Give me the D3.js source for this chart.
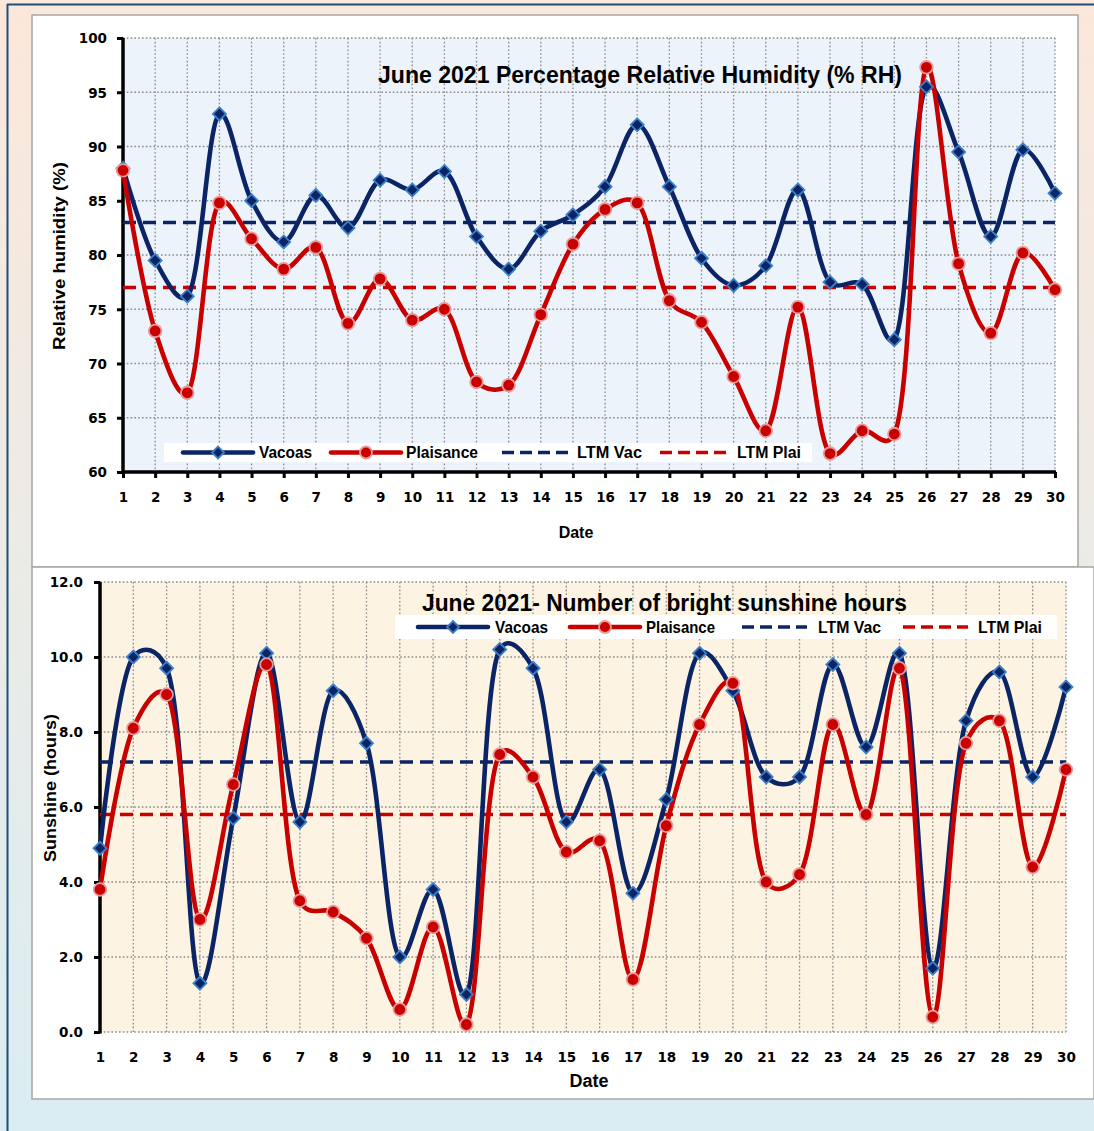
<!DOCTYPE html>
<html><head><meta charset="utf-8">
<script src="https://cdn.jsdelivr.net/npm/d3@7/dist/d3.min.js"></script>
<style>html,body{margin:0;padding:0;background:#fff}body{width:1094px;height:1131px;overflow:hidden}</style>
</head><body>
<svg id="c" width="1094" height="1131" xmlns="http://www.w3.org/2000/svg"></svg>
<script>
// ---------- DATA ----------
const days = [1,2,3,4,5,6,7,8,9,10,11,12,13,14,15,16,17,18,19,20,21,22,23,24,25,26,27,28,29,30];
const rhVacoas    = [88.0,79.5,76.2,93.0,85.0,81.2,85.5,82.5,86.9,86.0,87.7,81.7,78.7,82.2,83.7,86.3,92.0,86.3,79.7,77.2,79.0,86.0,77.5,77.3,72.2,95.5,89.5,81.7,89.7,85.7];
const rhPlaisance = [87.8,73.0,67.3,84.8,81.5,78.7,80.7,73.7,77.8,74.0,75.0,68.3,68.0,74.5,81.0,84.2,84.8,75.8,73.8,68.8,63.8,75.2,61.7,63.8,63.5,97.3,79.2,72.8,80.2,76.8];
const rhLtmVac = 83.0, rhLtmPlai = 77.0;
const rhTicks = [60,65,70,75,80,85,90,95,100];

const sunVacoas    = [4.9,10.0,9.7,1.3,5.7,10.1,5.6,9.1,7.7,2.0,3.8,1.0,10.2,9.7,5.6,7.0,3.7,6.2,10.1,9.1,6.8,6.8,9.8,7.6,10.1,1.7,8.3,9.6,6.8,9.2];
const sunPlaisance = [3.8,8.1,9.0,3.0,6.6,9.8,3.5,3.2,2.5,0.6,2.8,0.2,7.4,6.8,4.8,5.1,1.4,5.5,8.2,9.3,4.0,4.2,8.2,5.8,9.7,0.4,7.7,8.3,4.4,7.0];
const sunLtmVac = 7.2, sunLtmPlai = 5.8;
const sunTicks = [0,2,4,6,8,10,12];

const seriesNames = ["Vacoas","Plaisance","LTM Vac","LTM Plai"];
const titleRH  = "June 2021 Percentage Relative Humidity (% RH)";
const titleSun = "June 2021- Number of bright sunshine hours";

// ---------- STYLE ----------
const NAVY = "#0a2466", RED = "#c80000";
const NARROW = "'Liberation Sans Narrow','Arial Narrow','Liberation Sans',sans-serif";
const WIDE = "'DejaVu Sans',Verdana,sans-serif";

const svg = d3.select("#c");
const defs = svg.append("defs");
const g0 = defs.append("linearGradient").attr("id","bg").attr("x1",0).attr("y1",0).attr("x2",0).attr("y2",1);
g0.append("stop").attr("offset","0%").attr("stop-color","#fce7da");
g0.append("stop").attr("offset","50%").attr("stop-color","#ebebe6");
g0.append("stop").attr("offset","100%").attr("stop-color","#daedf3");

svg.append("rect").attr("width",1094).attr("height",1131).attr("fill","url(#bg)");
svg.append("line").attr("x1",7).attr("x2",1094).attr("y1",4.5).attr("y2",4.5).attr("stroke","#1f4e79").attr("stroke-width",2);
svg.append("line").attr("x1",7.5).attr("x2",7.5).attr("y1",4).attr("y2",1131).attr("stroke","#1f4e79").attr("stroke-width",2);

svg.append("rect").attr("x",32).attr("y",15).attr("width",1046).attr("height",552).attr("fill","#fff").attr("stroke","#a6a6a6").attr("stroke-width",1.5);
svg.append("rect").attr("x",32).attr("y",567).attr("width",1062).attr("height",532).attr("fill","#fff").attr("stroke","#a6a6a6").attr("stroke-width",1.5);

function diamond(sel, x, y, s){
  sel.append("path").attr("d",`M${x},${y-s}L${x+s},${y}L${x},${y+s}L${x-s},${y}Z`)
    .attr("fill",NAVY).attr("stroke","#3c7fc6").attr("stroke-width",1.8);
}
function dot(sel, x, y, r){
  sel.append("circle").attr("cx",x).attr("cy",y).attr("r",r)
    .attr("fill",RED).attr("stroke","#e89a9a").attr("stroke-width",1.8);
}

function chart(cfg){
  const g = svg.append("g");
  const x = d3.scaleLinear().domain([days[0], days[days.length-1]]).range([cfg.x0, cfg.x1]);
  const y = d3.scaleLinear().domain([cfg.ticks[0], cfg.ticks[cfg.ticks.length-1]]).range([cfg.y0, cfg.y1]);
  g.append("rect").attr("x",cfg.x0).attr("y",cfg.y1).attr("width",cfg.x1-cfg.x0).attr("height",cfg.y0-cfg.y1).attr("fill",cfg.bg);
  const grid = g.append("g").attr("stroke","#8a8a8a").attr("stroke-width",1.3).attr("stroke-dasharray","1.6,2.2");
  days.forEach(d=>{ grid.append("line").attr("x1",x(d)).attr("x2",x(d)).attr("y1",cfg.y1).attr("y2",cfg.y0); });
  cfg.ticks.forEach(t=>{ grid.append("line").attr("x1",cfg.x0).attr("x2",cfg.x1).attr("y1",y(t)).attr("y2",y(t)); });

  const ya = g.append("g").attr("transform",`translate(${cfg.x0},0)`)
    .call(d3.axisLeft(y).tickValues(cfg.ticks).tickSize(6).tickFormat(cfg.fmt));
  ya.select(".domain").attr("stroke","#000").attr("stroke-width",3.5).attr("d",`M0,${y(cfg.ticks[0])+1.5}V${y(cfg.ticks[cfg.ticks.length-1])}`);
  ya.selectAll(".tick line").attr("stroke","#000").attr("stroke-width",3);
  ya.selectAll(".tick text").attr("font-family",WIDE).attr("font-weight","bold").attr("font-size",13.5).attr("fill","#000").attr("x",cfg.ylabX - cfg.x0).attr("dy","0.36em");

  const xa = g.append("g").attr("transform",`translate(0,${cfg.y0})`)
    .call(d3.axisBottom(x).tickValues(days).tickSize(cfg.xTickLen).tickFormat(d3.format("d")));
  if (cfg.xAxisLine) xa.select(".domain").attr("stroke","#000").attr("stroke-width",3.5).attr("d",`M${cfg.x0},0H${cfg.x1+1}`);
  else xa.select(".domain").remove();
  xa.selectAll(".tick line").attr("stroke","#000").attr("stroke-width",3);
  xa.selectAll(".tick text").attr("font-family",WIDE).attr("font-weight","bold").attr("font-size",13.5).attr("fill","#000")
    .attr("y",cfg.xlabBase - cfg.y0).attr("dy",0);

  g.append("text").attr("x",cfg.titleX).attr("y",cfg.titleY).text(cfg.title)
    .attr("font-family",NARROW).attr("font-weight","bold").attr("font-size",cfg.titleSize).attr("fill","#000")
    .attr("textLength",cfg.titleW).attr("lengthAdjust","spacingAndGlyphs");
  g.append("text").attr("x",cfg.dateX).attr("y",cfg.dateY).text("Date").attr("text-anchor","middle")
    .attr("font-family",NARROW).attr("font-weight","bold").attr("font-size",cfg.dateSize).attr("fill","#000");
  g.append("text").attr("transform",`translate(${cfg.yTitleX},${cfg.yTitleY}) rotate(-90)`).text(cfg.yTitle)
    .attr("text-anchor","middle").attr("font-family",NARROW).attr("font-weight","bold").attr("font-size",17).attr("fill","#000")
    .attr("textLength",cfg.yTitleW).attr("lengthAdjust","spacingAndGlyphs");

  g.append("line").attr("x1",cfg.x0).attr("x2",cfg.x1).attr("y1",y(cfg.ltmVac)).attr("y2",y(cfg.ltmVac))
    .attr("stroke",NAVY).attr("stroke-width",3.6).attr("stroke-dasharray","13,7");
  g.append("line").attr("x1",cfg.x0).attr("x2",cfg.x1).attr("y1",y(cfg.ltmPlai)).attr("y2",y(cfg.ltmPlai))
    .attr("stroke",RED).attr("stroke-width",3.6).attr("stroke-dasharray","13,7");

  const line = d3.line().x((d,i)=>x(days[i])).y(d=>y(d)).curve(d3.curveCatmullRom.alpha(0.3));
  g.append("path").attr("d",line(cfg.vac)).attr("fill","none").attr("stroke",NAVY).attr("stroke-width",4.6);
  g.append("path").attr("d",line(cfg.plai)).attr("fill","none").attr("stroke",RED).attr("stroke-width",4.6);
  cfg.vac.forEach((v,i)=>diamond(g, x(days[i]), y(v), 6.5));
  cfg.plai.forEach((v,i)=>dot(g, x(days[i]), y(v), 6.3));

  const L = cfg.legend;
  g.append("rect").attr("x",L.x0).attr("y",L.yTop).attr("width",L.x1-L.x0).attr("height",L.h).attr("fill","#fff");
  const ly = L.yTop + L.h/2;
  L.items.forEach((it,k)=>{
    const col = (k===0||k===2)?NAVY:RED;
    const ln = g.append("line").attr("x1",it[0]).attr("x2",it[1]).attr("y1",ly).attr("y2",ly).attr("stroke",col);
    if (k<2){ ln.attr("stroke-width",4.6).attr("stroke-linecap","round"); }
    else { ln.attr("stroke-width",3.6).attr("stroke-dasharray",L.dash); }
    if (k===0) diamond(g,(it[0]+it[1])/2,ly,6);
    if (k===1) dot(g,(it[0]+it[1])/2,ly,6);
    g.append("text").attr("x",it[2]).attr("y",ly).attr("dy","0.35em").text(seriesNames[k])
      .attr("font-family",NARROW).attr("font-weight","bold").attr("font-size",L.fs).attr("fill","#000")
      .attr("textLength",it[3]).attr("lengthAdjust","spacingAndGlyphs");
  });
}

chart({
  x0:123, x1:1055, y0:472, y1:38, ticks:rhTicks, fmt:d3.format("d"), bg:"#edf3fb",
  ylabX:107, xTickLen:6, xAxisLine:true, xlabBase:502,
  title:titleRH, titleX:378, titleY:83, titleSize:24, titleW:524,
  dateX:576, dateY:538, dateSize:16,
  yTitle:"Relative humidity (%)", yTitleX:65, yTitleY:256, yTitleW:188,
  ltmVac:rhLtmVac, ltmPlai:rhLtmPlai, vac:rhVacoas, plai:rhPlaisance,
  legend:{x0:164, x1:812, yTop:443, h:19, fs:16, dash:"12,6",
    items:[[183,253,259,53],[331,401,406,72],[502,568,577,65],[660,726,737,64]]}
});

chart({
  x0:100, x1:1066, y0:1032, y1:582, ticks:sunTicks, fmt:d3.format(".1f"), bg:"#fcf3e3",
  ylabX:83, xTickLen:0, xAxisLine:false, xlabBase:1062,
  title:titleSun, titleX:422, titleY:611, titleSize:24, titleW:485,
  dateX:589, dateY:1087, dateSize:18,
  yTitle:"Sunshine (hours)", yTitleX:56, yTitleY:788, yTitleW:148,
  ltmVac:sunLtmVac, ltmPlai:sunLtmPlai, vac:sunVacoas, plai:sunPlaisance,
  legend:{x0:395, x1:1057, yTop:615, h:24, fs:17, dash:"12,6",
    items:[[418,488,495,53],[570,640,646,69],[742,807,818,63],[903,968,978,64]]}
});
</script>
</body></html>
